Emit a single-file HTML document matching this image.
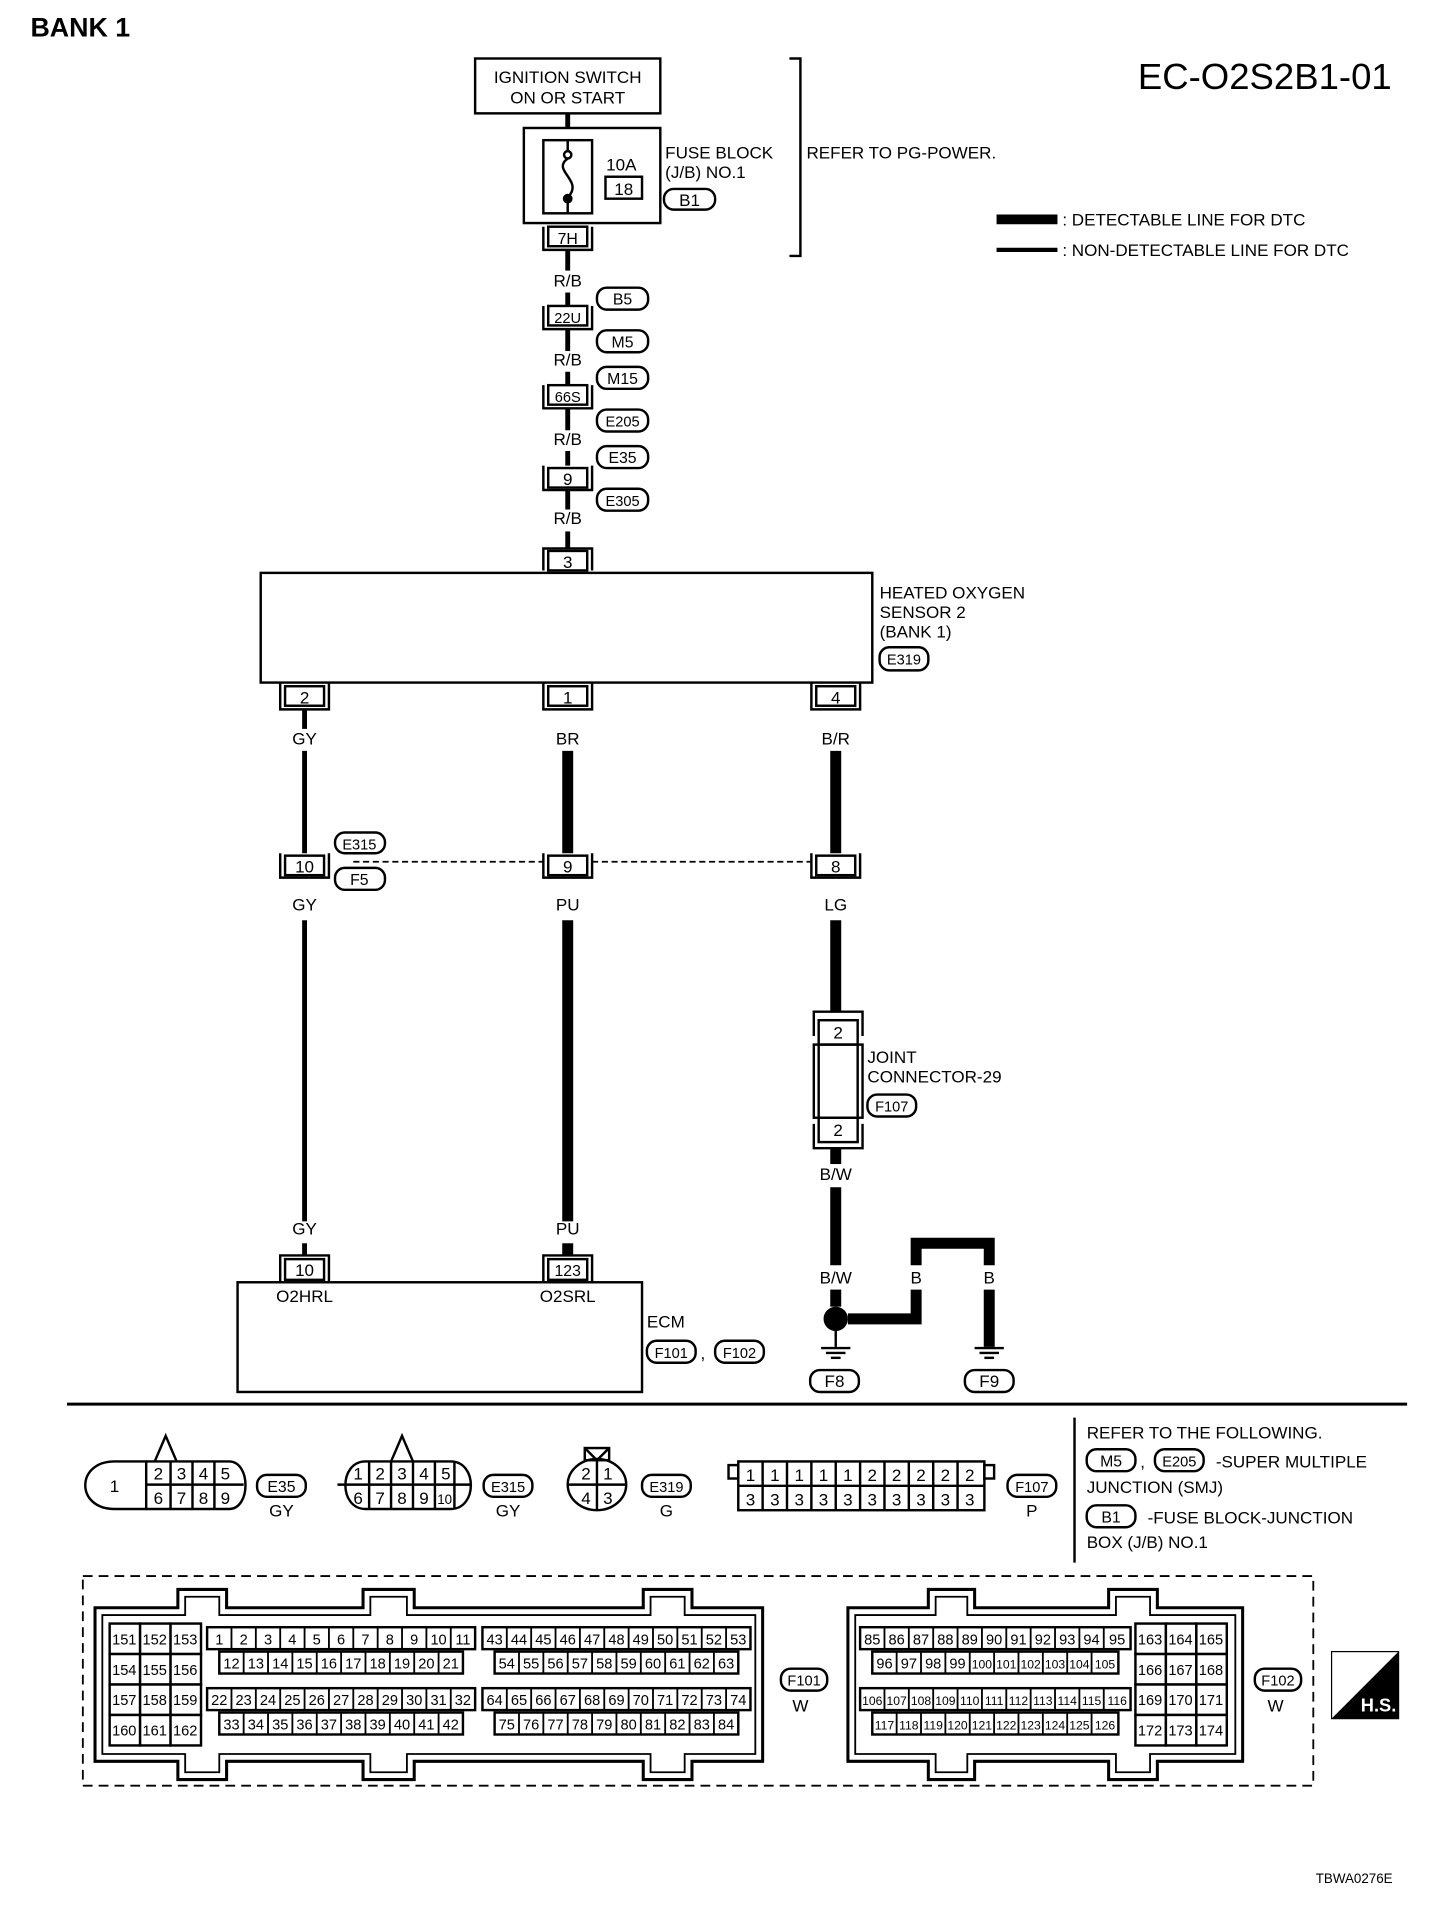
<!DOCTYPE html>
<html><head><meta charset="utf-8"><style>
html,body{margin:0;padding:0;background:#fff;}
svg{display:block;}
text{font-family:"Liberation Sans Narrow","Liberation Sans",sans-serif;fill:#000;}
</style></head><body>
<svg width="1440" height="1910" viewBox="0 0 1182 1567" preserveAspectRatio="none" xmlns="http://www.w3.org/2000/svg">
<g fill="none" stroke="#000" stroke-width="2">
<rect x="390" y="48" width="152" height="45"/>
<rect x="430" y="105" width="112" height="78"/>
<rect x="446" y="115" width="40" height="60"/>
<rect x="497" y="145" width="30" height="18"/>
<path d="M466 115 V124 M466 130 C452 140,480 148,466 162 V175"/>
<circle cx="466" cy="127" r="3"/>
<polyline points="648,48 657,48 657,210 648,210"/>
<rect x="545" y="155" width="42" height="17" rx="8"/>
<line x1="466" y1="93" x2="466" y2="105" stroke-width="4"/>
<line x1="466" y1="205" x2="466" y2="222" stroke-width="4"/>
<line x1="466" y1="240" x2="466" y2="251" stroke-width="4"/>
<line x1="466" y1="270" x2="466" y2="288" stroke-width="4"/>
<line x1="466" y1="305" x2="466" y2="316" stroke-width="4"/>
<line x1="466" y1="335" x2="466" y2="353" stroke-width="4"/>
<line x1="466" y1="370" x2="466" y2="382" stroke-width="4"/>
<line x1="466" y1="402" x2="466" y2="418" stroke-width="4"/>
<line x1="466" y1="436" x2="466" y2="450" stroke-width="4"/>
<polyline points="446,186 446,205 486,205 486,186"/><rect x="450" y="186" width="32" height="16"/>
<polyline points="446,251 446,270 486,270 486,251"/><rect x="450" y="251" width="32" height="16"/>
<polyline points="446,316 446,335 486,335 486,316"/><rect x="450" y="316" width="32" height="16"/>
<polyline points="446,382 446,402 486,402 486,382"/><rect x="450" y="384" width="32" height="16"/>
<polyline points="446,468 446,450 486,450 486,468"/><rect x="450" y="452" width="32" height="16"/>
<rect x="490" y="236" width="42" height="18" rx="8"/>
<rect x="490" y="271" width="42" height="18" rx="8"/>
<rect x="490" y="301" width="42" height="18" rx="8"/>
<rect x="490" y="336" width="42" height="18" rx="8"/>
<rect x="490" y="366" width="42" height="18" rx="8"/>
<rect x="490" y="401" width="42" height="18" rx="8"/>
<rect x="214" y="470" width="502" height="90"/>
<rect x="722" y="531" width="40" height="19" rx="8"/>
<polyline points="230,560 230,582 270,582 270,560"/><rect x="234" y="563" width="32" height="16"/>
<polyline points="446,560 446,582 486,582 486,560"/><rect x="450" y="563" width="32" height="16"/>
<polyline points="666,560 666,582 706,582 706,560"/><rect x="670" y="563" width="32" height="16"/>
<line x1="250" y1="582" x2="250" y2="598" stroke-width="4"/>
<line x1="250" y1="616" x2="250" y2="700" stroke-width="4"/>
<line x1="466" y1="616" x2="466" y2="700" stroke-width="9"/>
<line x1="686" y1="616" x2="686" y2="700" stroke-width="9"/>
<polyline points="230,700 230,720 270,720 270,700"/><rect x="234" y="702" width="32" height="16"/>
<polyline points="446,700 446,720 486,720 486,700"/><rect x="450" y="702" width="32" height="16"/>
<polyline points="666,700 666,720 706,720 706,700"/><rect x="670" y="702" width="32" height="16"/>
<line x1="290" y1="707" x2="446" y2="707" stroke-dasharray="5,3" stroke-width="1.5"/>
<line x1="486" y1="707" x2="666" y2="707" stroke-dasharray="5,3" stroke-width="1.5"/>
<rect x="275" y="683" width="41" height="17" rx="8"/>
<rect x="275" y="712" width="41" height="18" rx="8"/>
<line x1="250" y1="755" x2="250" y2="1002" stroke-width="4"/>
<line x1="466" y1="755" x2="466" y2="1002" stroke-width="9"/>
<line x1="686" y1="755" x2="686" y2="830" stroke-width="9"/>
<polyline points="668,850 668,830 708,830 708,850"/>
<rect x="672" y="837" width="32" height="20"/>
<rect x="668" y="857" width="40" height="60"/>
<line x1="672" y1="857" x2="672" y2="917"/><line x1="704" y1="857" x2="704" y2="917"/>
<rect x="672" y="917" width="32" height="20"/>
<polyline points="668,922 668,942 708,942 708,922"/>
<rect x="712" y="898" width="40" height="18" rx="8"/>
<line x1="686" y1="942" x2="686" y2="955" stroke-width="9"/>
<line x1="686" y1="974" x2="686" y2="1038" stroke-width="9"/>
<line x1="686" y1="1058" x2="686" y2="1072" stroke-width="9"/>
<line x1="250" y1="1020" x2="250" y2="1030" stroke-width="4"/>
<line x1="466" y1="1020" x2="466" y2="1030" stroke-width="9"/>
<polyline points="230,1052 230,1030 270,1030 270,1052"/><rect x="234" y="1033" width="32" height="17"/>
<polyline points="446,1052 446,1030 486,1030 486,1052"/><rect x="450" y="1033" width="32" height="17"/>
<rect x="195" y="1052" width="332" height="90"/>
<rect x="531" y="1100" width="40" height="18" rx="8"/>
<rect x="587" y="1100" width="40" height="18" rx="8"/>
<polyline points="696,1082 752,1082 752,1058" stroke-width="9"/>
<polyline points="752,1038 752,1020 812,1020 812,1038" stroke-width="9"/>
<line x1="812" y1="1058" x2="812" y2="1105" stroke-width="9"/>
<line x1="686" y1="1082" x2="686" y2="1105"/>
<line x1="674" y1="1106" x2="698" y2="1106"/><line x1="678" y1="1110" x2="694" y2="1110"/><line x1="682" y1="1114" x2="690" y2="1114"/>
<line x1="800" y1="1106" x2="824" y2="1106"/><line x1="804" y1="1110" x2="820" y2="1110"/><line x1="808" y1="1114" x2="816" y2="1114"/>
<rect x="665" y="1124" width="40" height="18" rx="8"/>
<rect x="792" y="1124" width="40" height="18" rx="8"/>
<line x1="818" y1="180" x2="868" y2="180" stroke-width="8"/>
<line x1="818" y1="205" x2="868" y2="205" stroke-width="3.5"/>
<line x1="55" y1="1152" x2="1155" y2="1152" stroke-width="2.5"/>
<line x1="882" y1="1163" x2="882" y2="1282"/>
<rect x="892" y="1189" width="40" height="18" rx="8"/>
<rect x="948" y="1189" width="40" height="18" rx="8"/>
<rect x="892" y="1235" width="40" height="18" rx="8"/>
<path d="M94 1199 H120 V1238 H94 C62 1238,62 1199,94 1199 Z"/>
<path d="M120 1199 H188 C206 1199,206 1238,188 1238 H120"/>
<line x1="120" y1="1218" x2="200" y2="1218"/>
<line x1="140" y1="1199" x2="140" y2="1238"/><line x1="158" y1="1199" x2="158" y2="1238"/><line x1="176" y1="1199" x2="176" y2="1238"/>
<polyline points="127,1199 136,1178 145,1199"/>
<rect x="211" y="1210" width="40" height="18" rx="8"/>
<path d="M300 1199 H370 C392 1199,392 1238,370 1238 H300 C278 1238,278 1199,300 1199 Z"/>
<line x1="277" y1="1218" x2="387" y2="1218"/>
<line x1="303" y1="1199" x2="303" y2="1238"/><line x1="321" y1="1199" x2="321" y2="1238"/><line x1="339" y1="1199" x2="339" y2="1238"/><line x1="357" y1="1199" x2="357" y2="1238"/><line x1="373" y1="1199" x2="373" y2="1238"/>
<polyline points="321,1199 330,1178 339,1199"/>
<rect x="397" y="1210" width="40" height="18" rx="8"/>
<ellipse cx="490" cy="1218" rx="24" ry="21"/>
<line x1="466" y1="1218" x2="514" y2="1218"/><line x1="490" y1="1197" x2="490" y2="1239"/>
<rect x="480" y="1188" width="20" height="10"/><polyline points="480,1188 490,1198 500,1188"/>
<rect x="527" y="1210" width="40" height="18" rx="8"/>
<rect x="606" y="1199" width="202" height="40"/>
<line x1="606" y1="1219" x2="808" y2="1219"/>
<path d="M626 1199V1239M646 1199V1239M666 1199V1239M686 1199V1239M706 1199V1239M726 1199V1239M746 1199V1239M766 1199V1239M786 1199V1239"/>
<rect x="598" y="1202" width="8" height="11"/><rect x="808" y="1202" width="8" height="11"/>
<rect x="827" y="1210" width="40" height="18" rx="8"/>
<rect x="68" y="1293" width="1010" height="172" stroke-dasharray="8,5" stroke-width="1.5"/>
<path d="M78 1319 H146 V1304 H186 V1319 H298 V1304 H340 V1319 H528 V1304 H568 V1319 H626 V1445 H568 V1460 H528 V1445 H340 V1460 H298 V1445 H186 V1460 H146 V1445 H78 Z" stroke-width="2.5"/>
<path d="M84 1325 H152 V1310 H180 V1325 H304 V1310 H334 V1325 H534 V1310 H562 V1325 H620 V1439 H562 V1454 H534 V1439 H334 V1454 H304 V1439 H180 V1454 H152 V1439 H84 Z" stroke-width="1.5"/>
<path d="M696 1319 H762 V1304 H800 V1319 H910 V1304 H950 V1319 H1020 V1445 H950 V1460 H910 V1445 H800 V1460 H762 V1445 H696 Z" stroke-width="2.5"/>
<path d="M702 1325 H768 V1310 H794 V1325 H916 V1310 H944 V1325 H1014 V1439 H944 V1454 H916 V1439 H794 V1454 H768 V1439 H702 Z" stroke-width="1.5"/>
<rect x="641" y="1369" width="38" height="18" rx="8"/>
<rect x="1030" y="1369" width="38" height="18" rx="8"/>
</g>
<circle cx="686" cy="1082" r="10" fill="#000"/>
<circle cx="466" cy="163" r="4" fill="#000"/>
<path d="M1148 1355 V1410 H1093 Z" fill="#000"/>
<rect x="1093" y="1355" width="55" height="55" fill="none" stroke="#000" stroke-width="1"/>
<g stroke="#000" stroke-width="2" fill="#fff">
<rect x="90" y="1332" width="25" height="25"/><rect x="115" y="1332" width="25" height="25"/><rect x="140" y="1332" width="25" height="25"/>
<rect x="90" y="1357" width="25" height="25"/><rect x="115" y="1357" width="25" height="25"/><rect x="140" y="1357" width="25" height="25"/>
<rect x="90" y="1382" width="25" height="25"/><rect x="115" y="1382" width="25" height="25"/><rect x="140" y="1382" width="25" height="25"/>
<rect x="90" y="1407" width="25" height="25"/><rect x="115" y="1407" width="25" height="25"/><rect x="140" y="1407" width="25" height="25"/>
<rect x="170" y="1335" width="220" height="18"/><rect x="180" y="1355" width="200" height="18"/>
<rect x="170" y="1385" width="220" height="18"/><rect x="180" y="1405" width="200" height="18"/>
<rect x="396" y="1335" width="220" height="18"/><rect x="406" y="1355" width="200" height="18"/>
<rect x="396" y="1385" width="220" height="18"/><rect x="406" y="1405" width="200" height="18"/>
<rect x="706" y="1335" width="222" height="18"/><rect x="716" y="1355" width="202" height="18"/>
<rect x="706" y="1385" width="222" height="18"/><rect x="716" y="1405" width="202" height="18"/>
<rect x="932" y="1332" width="25" height="25"/><rect x="957" y="1332" width="25" height="25"/><rect x="982" y="1332" width="25" height="25"/>
<rect x="932" y="1357" width="25" height="25"/><rect x="957" y="1357" width="25" height="25"/><rect x="982" y="1357" width="25" height="25"/>
<rect x="932" y="1382" width="25" height="25"/><rect x="957" y="1382" width="25" height="25"/><rect x="982" y="1382" width="25" height="25"/>
<rect x="932" y="1407" width="25" height="25"/><rect x="957" y="1407" width="25" height="25"/><rect x="982" y="1407" width="25" height="25"/>
</g>
<g stroke="#000" stroke-width="1.5">
<path d="M190 1335v18M210 1335v18M230 1335v18M250 1335v18M270 1335v18M290 1335v18M310 1335v18M330 1335v18M350 1335v18M370 1335v18"/>
<path d="M190 1385v18M210 1385v18M230 1385v18M250 1385v18M270 1385v18M290 1385v18M310 1385v18M330 1385v18M350 1385v18M370 1385v18"/>
<path d="M200 1355v18M220 1355v18M240 1355v18M260 1355v18M280 1355v18M300 1355v18M320 1355v18M340 1355v18M360 1355v18"/>
<path d="M200 1405v18M220 1405v18M240 1405v18M260 1405v18M280 1405v18M300 1405v18M320 1405v18M340 1405v18M360 1405v18"/>
<path d="M416 1335v18M436 1335v18M456 1335v18M476 1335v18M496 1335v18M516 1335v18M536 1335v18M556 1335v18M576 1335v18M596 1335v18"/>
<path d="M416 1385v18M436 1385v18M456 1385v18M476 1385v18M496 1385v18M516 1385v18M536 1385v18M556 1385v18M576 1385v18M596 1385v18"/>
<path d="M426 1355v18M446 1355v18M466 1355v18M486 1355v18M506 1355v18M526 1355v18M546 1355v18M566 1355v18M586 1355v18"/>
<path d="M426 1405v18M446 1405v18M466 1405v18M486 1405v18M506 1405v18M526 1405v18M546 1405v18M566 1405v18M586 1405v18"/>
<path d="M726 1335v18M746 1335v18M766 1335v18M786 1335v18M806 1335v18M826 1335v18M846 1335v18M866 1335v18M886 1335v18M906 1335v18"/>
<path d="M726 1385v18M746 1385v18M766 1385v18M786 1385v18M806 1385v18M826 1385v18M846 1385v18M866 1385v18M886 1385v18M906 1385v18"/>
<path d="M736 1355v18M756 1355v18M776 1355v18M796 1355v18M816 1355v18M836 1355v18M856 1355v18M876 1355v18M896 1355v18"/>
<path d="M736 1405v18M756 1405v18M776 1405v18M796 1405v18M816 1405v18M836 1405v18M856 1405v18M876 1405v18M896 1405v18"/>
</g>
<g font-size="14" text-anchor="middle">
<text x="466" y="68">IGNITION SWITCH</text>
<text x="466" y="85">ON OR START</text>
<text x="510" y="140">10A</text>
<text x="512" y="160">18</text>
<text x="566" y="169">B1</text>
<text x="466" y="200" font-size="13">7H</text>
<text x="466" y="235">R/B</text>
<text x="466" y="265" font-size="12">22U</text>
<text x="466" y="300">R/B</text>
<text x="466" y="330" font-size="12">66S</text>
<text x="466" y="365">R/B</text>
<text x="466" y="398">9</text>
<text x="466" y="430">R/B</text>
<text x="466" y="466">3</text>
<text x="511" y="250" font-size="13">B5</text>
<text x="511" y="285" font-size="13">M5</text>
<text x="511" y="315" font-size="13">M15</text>
<text x="511" y="350" font-size="12">E205</text>
<text x="511" y="380" font-size="13">E35</text>
<text x="511" y="415" font-size="12">E305</text>
<text x="742" y="545" font-size="12">E319</text>
<text x="250" y="577">2</text><text x="466" y="577">1</text><text x="686" y="577">4</text>
<text x="250" y="611">GY</text><text x="466" y="611">BR</text><text x="686" y="611">B/R</text>
<text x="250" y="716">10</text><text x="466" y="716">9</text><text x="686" y="716">8</text>
<text x="295" y="697" font-size="12">E315</text><text x="295" y="726" font-size="13">F5</text>
<text x="250" y="747">GY</text><text x="466" y="747">PU</text><text x="686" y="747">LG</text>
<text x="688" y="852">2</text><text x="688" y="932">2</text>
<text x="732" y="912" font-size="12">F107</text>
<text x="686" y="968">B/W</text>
<text x="250" y="1013">GY</text><text x="466" y="1013">PU</text>
<text x="250" y="1047">10</text><text x="466" y="1047" font-size="13">123</text>
<text x="250" y="1068">O2HRL</text><text x="466" y="1068">O2SRL</text>
<text x="551" y="1114" font-size="12">F101</text><text x="607" y="1114" font-size="12">F102</text>
<text x="686" y="1053">B/W</text><text x="752" y="1053">B</text><text x="812" y="1053">B</text>
<text x="685" y="1138">F8</text><text x="812" y="1138">F9</text>
<text x="912" y="1203" font-size="13">M5</text><text x="968" y="1203" font-size="12">E205</text>
<text x="912" y="1249" font-size="13">B1</text>
<text x="94" y="1224">1</text>
<text x="130" y="1214">2</text><text x="149" y="1214">3</text><text x="167" y="1214">4</text><text x="185" y="1214">5</text>
<text x="130" y="1234">6</text><text x="149" y="1234">7</text><text x="167" y="1234">8</text><text x="185" y="1234">9</text>
<text x="231" y="1224" font-size="13">E35</text><text x="231" y="1244">GY</text>
<text x="294" y="1214">1</text><text x="312" y="1214">2</text><text x="330" y="1214">3</text><text x="348" y="1214">4</text><text x="366" y="1214">5</text>
<text x="294" y="1234">6</text><text x="312" y="1234">7</text><text x="330" y="1234">8</text><text x="348" y="1234">9</text><text x="365" y="1234" font-size="11">10</text>
<text x="417" y="1224" font-size="12">E315</text><text x="417" y="1244">GY</text>
<text x="481" y="1214">2</text><text x="499" y="1214">1</text><text x="481" y="1234">4</text><text x="499" y="1234">3</text>
<text x="547" y="1224" font-size="12">E319</text><text x="547" y="1244">G</text>
<text x="616" y="1215">1</text><text x="636" y="1215">1</text><text x="656" y="1215">1</text><text x="676" y="1215">1</text><text x="696" y="1215">1</text><text x="716" y="1215">2</text><text x="736" y="1215">2</text><text x="756" y="1215">2</text><text x="776" y="1215">2</text><text x="796" y="1215">2</text>
<text x="616" y="1235">3</text><text x="636" y="1235">3</text><text x="656" y="1235">3</text><text x="676" y="1235">3</text><text x="696" y="1235">3</text><text x="716" y="1235">3</text><text x="736" y="1235">3</text><text x="756" y="1235">3</text><text x="776" y="1235">3</text><text x="796" y="1235">3</text>
<text x="847" y="1224" font-size="12">F107</text><text x="847" y="1244">P</text>
<text x="660" y="1383" font-size="12">F101</text><text x="657" y="1404">W</text>
<text x="1049" y="1383" font-size="12">F102</text><text x="1047" y="1404">W</text>
</g>
<g font-size="12" text-anchor="middle">
<text x="102" y="1349">151</text><text x="127" y="1349">152</text><text x="152" y="1349">153</text>
<text x="102" y="1374">154</text><text x="127" y="1374">155</text><text x="152" y="1374">156</text>
<text x="102" y="1399">157</text><text x="127" y="1399">158</text><text x="152" y="1399">159</text>
<text x="102" y="1424">160</text><text x="127" y="1424">161</text><text x="152" y="1424">162</text>
<text x="180" y="1349">1</text><text x="200" y="1349">2</text><text x="220" y="1349">3</text><text x="240" y="1349">4</text><text x="260" y="1349">5</text><text x="280" y="1349">6</text><text x="300" y="1349">7</text><text x="320" y="1349">8</text><text x="340" y="1349">9</text><text x="360" y="1349">10</text><text x="380" y="1349">11</text>
<text x="190" y="1369">12</text><text x="210" y="1369">13</text><text x="230" y="1369">14</text><text x="250" y="1369">15</text><text x="270" y="1369">16</text><text x="290" y="1369">17</text><text x="310" y="1369">18</text><text x="330" y="1369">19</text><text x="350" y="1369">20</text><text x="370" y="1369">21</text>
<text x="180" y="1399">22</text><text x="200" y="1399">23</text><text x="220" y="1399">24</text><text x="240" y="1399">25</text><text x="260" y="1399">26</text><text x="280" y="1399">27</text><text x="300" y="1399">28</text><text x="320" y="1399">29</text><text x="340" y="1399">30</text><text x="360" y="1399">31</text><text x="380" y="1399">32</text>
<text x="190" y="1419">33</text><text x="210" y="1419">34</text><text x="230" y="1419">35</text><text x="250" y="1419">36</text><text x="270" y="1419">37</text><text x="290" y="1419">38</text><text x="310" y="1419">39</text><text x="330" y="1419">40</text><text x="350" y="1419">41</text><text x="370" y="1419">42</text>
<text x="406" y="1349">43</text><text x="426" y="1349">44</text><text x="446" y="1349">45</text><text x="466" y="1349">46</text><text x="486" y="1349">47</text><text x="506" y="1349">48</text><text x="526" y="1349">49</text><text x="546" y="1349">50</text><text x="566" y="1349">51</text><text x="586" y="1349">52</text><text x="606" y="1349">53</text>
<text x="416" y="1369">54</text><text x="436" y="1369">55</text><text x="456" y="1369">56</text><text x="476" y="1369">57</text><text x="496" y="1369">58</text><text x="516" y="1369">59</text><text x="536" y="1369">60</text><text x="556" y="1369">61</text><text x="576" y="1369">62</text><text x="596" y="1369">63</text>
<text x="406" y="1399">64</text><text x="426" y="1399">65</text><text x="446" y="1399">66</text><text x="466" y="1399">67</text><text x="486" y="1399">68</text><text x="506" y="1399">69</text><text x="526" y="1399">70</text><text x="546" y="1399">71</text><text x="566" y="1399">72</text><text x="586" y="1399">73</text><text x="606" y="1399">74</text>
<text x="416" y="1419">75</text><text x="436" y="1419">76</text><text x="456" y="1419">77</text><text x="476" y="1419">78</text><text x="496" y="1419">79</text><text x="516" y="1419">80</text><text x="536" y="1419">81</text><text x="556" y="1419">82</text><text x="576" y="1419">83</text><text x="596" y="1419">84</text>
<text x="716" y="1349">85</text><text x="736" y="1349">86</text><text x="756" y="1349">87</text><text x="776" y="1349">88</text><text x="796" y="1349">89</text><text x="816" y="1349">90</text><text x="836" y="1349">91</text><text x="856" y="1349">92</text><text x="876" y="1349">93</text><text x="896" y="1349">94</text><text x="917" y="1349">95</text>
<text x="726" y="1369">96</text><text x="746" y="1369">97</text><text x="766" y="1369">98</text><text x="786" y="1369">99</text><text x="806" y="1369" font-size="10">100</text><text x="826" y="1369" font-size="10">101</text><text x="846" y="1369" font-size="10">102</text><text x="866" y="1369" font-size="10">103</text><text x="886" y="1369" font-size="10">104</text><text x="907" y="1369" font-size="10">105</text>
<text x="716" y="1399" font-size="10">106</text><text x="736" y="1399" font-size="10">107</text><text x="756" y="1399" font-size="10">108</text><text x="776" y="1399" font-size="10">109</text><text x="796" y="1399" font-size="10">110</text><text x="816" y="1399" font-size="10">111</text><text x="836" y="1399" font-size="10">112</text><text x="856" y="1399" font-size="10">113</text><text x="876" y="1399" font-size="10">114</text><text x="896" y="1399" font-size="10">115</text><text x="917" y="1399" font-size="10">116</text>
<text x="726" y="1419" font-size="10">117</text><text x="746" y="1419" font-size="10">118</text><text x="766" y="1419" font-size="10">119</text><text x="786" y="1419" font-size="10">120</text><text x="806" y="1419" font-size="10">121</text><text x="826" y="1419" font-size="10">122</text><text x="846" y="1419" font-size="10">123</text><text x="866" y="1419" font-size="10">124</text><text x="886" y="1419" font-size="10">125</text><text x="907" y="1419" font-size="10">126</text>
<text x="944" y="1349">163</text><text x="969" y="1349">164</text><text x="994" y="1349">165</text>
<text x="944" y="1374">166</text><text x="969" y="1374">167</text><text x="994" y="1374">168</text>
<text x="944" y="1399">169</text><text x="969" y="1399">170</text><text x="994" y="1399">171</text>
<text x="944" y="1424">172</text><text x="969" y="1424">173</text><text x="994" y="1424">174</text>
</g>
<g font-size="14">
<text x="546" y="130">FUSE BLOCK</text>
<text x="546" y="146">(J/B) NO.1</text>
<text x="662" y="130">REFER TO PG-POWER.</text>
<text x="872" y="185">: DETECTABLE LINE FOR DTC</text>
<text x="872" y="210">: NON-DETECTABLE LINE FOR DTC</text>
<text x="722" y="491">HEATED OXYGEN</text>
<text x="722" y="507">SENSOR 2</text>
<text x="722" y="523">(BANK 1)</text>
<text x="712" y="872">JOINT</text>
<text x="712" y="888">CONNECTOR-29</text>
<text x="531" y="1089">ECM</text>
<text x="575" y="1115">,</text>
<text x="892" y="1180">REFER TO THE FOLLOWING.</text>
<text x="936" y="1204">,</text>
<text x="998" y="1204">-SUPER MULTIPLE</text>
<text x="892" y="1225">JUNCTION (SMJ)</text>
<text x="942" y="1250">-FUSE BLOCK-JUNCTION</text>
<text x="892" y="1270">BOX (J/B) NO.1</text>
</g>
<text x="25" y="30" font-size="22" font-weight="bold">BANK 1</text>
<text x="934" y="73" font-size="30">EC-O2S2B1-01</text>
<text x="1117" y="1404" font-size="15" font-weight="bold" style="fill:#fff">H.S.</text>
<text x="1080" y="1545" font-size="11">TBWA0276E</text>
</svg>
</body></html>
